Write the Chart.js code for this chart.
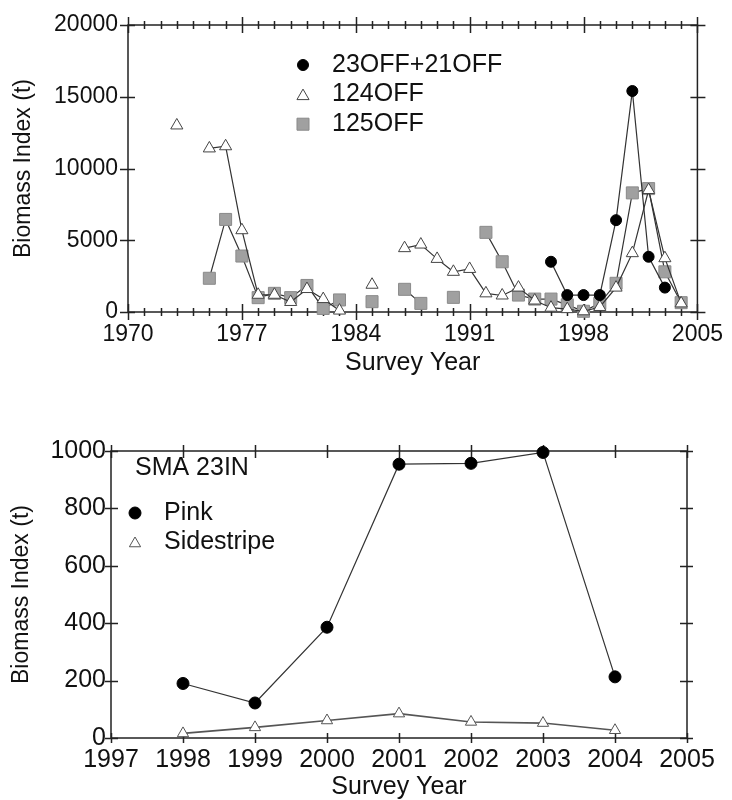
<!DOCTYPE html>
<html>
<head>
<meta charset="utf-8">
<script src="https://cdn.jsdelivr.net/npm/chart.js@4.4.0/dist/chart.umd.min.js"></script>
<style>
html,body{margin:0;padding:0;background:#fff;}
#wrap{position:relative;width:732px;height:800px;overflow:hidden;}
.box{position:absolute;left:0;width:732px;}
</style>
</head>
<body>
<div id="wrap">
  <div class="box" style="top:0;height:390px"><canvas id="c1" width="732" height="390"></canvas></div>
  <div class="box" style="top:390px;height:410px"><canvas id="c2" width="732" height="410"></canvas></div>
</div>
<script>
// ---------- DATA: top panel ----------
const topYears = [1973,1974,1975,1976,1977,1978,1979,1980,1981,1982,1983,1984,1985,1986,1987,1988,
                  1989,1990,1991,1992,1993,1994,1995,1996,1997,1998,1999,2000,2001,2002,2003,2004];
const off23plus21 = [null,null,null,null,null,null,null,null,null,null,null,null,null,null,null,null,
                     null,null,null,null,null,null,null,3500,1180,1180,1180,6400,15400,3850,1700,null];
const off124 = [13000,null,11400,11550,5700,1200,1200,700,1600,900,100,null,1900,null,4450,4700,
                3700,2800,3000,1300,1150,1700,800,300,200,50,350,1700,4100,8500,3750,600];
const off125 = [null,null,2350,6450,3900,1000,1300,1000,1850,250,840,null,720,null,1580,600,
                null,1020,null,5550,3500,1180,900,900,500,50,600,2000,8300,8600,2800,650];
const topSeriesNames = ['23OFF+21OFF','124OFF','125OFF'];
const topXTicks = [1970,1977,1984,1991,1998,2005];
const topYTicks = [0,5000,10000,15000,20000];

// ---------- DATA: bottom panel ----------
const botYears = [1998,1999,2000,2001,2002,2003,2004];
const pink = [190,122,386,954,957,995,213];
const sidestripe = [16,37,61,85,56,52,27];
const botSeriesNames = ['Pink','Sidestripe'];
const botXTicks = [1997,1998,1999,2000,2001,2002,2003,2004,2005];
const botYTicks = [0,200,400,600,800,1000];
const botPanelLabel = 'SMA 23IN';

const FONT = "'Liberation Sans', Arial, sans-serif";
const INK = '#111';

const pts = (xs, ys) => xs.map((x, i) => ({x: x, y: ys[i]}));

// frame + tick marks drawn through the chart's own scales
const axisFrame = {
  id: 'axisFrame',
  beforeDatasetsDraw(chart, args, o) {
    const {ctx, chartArea: a, scales: {x, y}} = chart;
    ctx.save();
    ctx.strokeStyle = o.color;
    ctx.lineWidth = o.lineWidth;
    ctx.strokeRect(a.left, a.top, a.right - a.left, a.bottom - a.top);
    ctx.beginPath();
    for (let v = x.min; v <= x.max + 1e-9; v += o.xMinorStep) {
      const px = Math.round(x.getPixelForValue(v)) + 0.5;
      const major = x.ticks.some(t => Math.abs(t.value - v) < 1e-6);
      const b = major ? o.xMajorBottom : o.xMinorBottom;
      const t = major ? o.xMajorTop : o.xMinorTop;
      ctx.moveTo(px, a.bottom + b[0]); ctx.lineTo(px, a.bottom - b[1]);
      ctx.moveTo(px, a.top - t[0]); ctx.lineTo(px, a.top + t[1]);
    }
    for (const tk of y.ticks) {
      const py = Math.round(y.getPixelForValue(tk.value)) + 0.5;
      ctx.moveTo(a.left - o.yLeft[0], py); ctx.lineTo(a.left + o.yLeft[1], py);
      ctx.moveTo(a.right - o.yRight[1], py); ctx.lineTo(a.right + o.yRight[0], py);
    }
    ctx.stroke();
    ctx.restore();
  }
};

// legend inside the plot, using the datasets' own marker styles
const inlineLegend = {
  id: 'inlineLegend',
  afterDraw(chart, args, o) {
    const ctx = chart.ctx;
    ctx.save();
    ctx.font = o.font;
    ctx.fillStyle = INK;
    ctx.textBaseline = 'middle';
    ctx.textAlign = 'left';
    if (o.title) ctx.fillText(o.title, o.titleX, o.titleY);
    chart.data.datasets.forEach((ds, i) => {
      const yy = o.y + i * o.gap;
      ctx.save();
      ctx.fillStyle = ds.pointBackgroundColor;
      ctx.strokeStyle = ds.pointBorderColor;
      ctx.lineWidth = ds.pointBorderWidth;
      Chart.helpers.drawPoint(ctx, {pointStyle: ds.pointStyle, radius: ds.pointRadius,
        borderWidth: ds.pointBorderWidth, rotation: 0}, o.markerX, yy + (ds.pointStyle === 'triangle' ? 1.5 : 0));
      ctx.restore();
      ctx.fillStyle = INK;
      ctx.fillText(ds.label, o.textX, yy);
    });
    ctx.restore();
  }
};

function lineSet(label, data, style) {
  return Object.assign({
    label: label, data: data, showLine: true, spanGaps: false, clip: false,
    borderColor: '#333', borderWidth: 1.2, tension: 0,
  }, style);
}

const circleStyle = {pointStyle: 'circle', pointRadius: 5.5, pointBackgroundColor: '#000',
  pointBorderColor: '#000', pointBorderWidth: 1};
const triStyle = {pointStyle: 'triangle', pointRadius: 7, pointBackgroundColor: '#fff',
  pointBorderColor: '#444', pointBorderWidth: 1};
const squareStyle = {pointStyle: 'rect', pointRadius: 8.5, pointBackgroundColor: '#a0a0a0',
  pointBorderColor: '#8a8a8a', pointBorderWidth: 1};

function scaleOpts(cfg) {
  return {
    x: {
      type: 'linear', min: cfg.xMin, max: cfg.xMax,
      afterBuildTicks: s => { s.ticks = cfg.xTicks.map(v => ({value: v})); },
      afterFit: s => { s.height = cfg.xHeight; },
      ticks: {callback: v => String(v), font: {family: FONT, size: cfg.tickSize}, color: INK,
        padding: cfg.xTickPad, maxRotation: 0, autoSkip: false},
      grid: {display: false, drawTicks: false},
      border: {display: false},
      title: {display: true, text: 'Survey Year', color: INK,
        font: {family: FONT, size: 25}, padding: {top: 0, bottom: cfg.xTitlePad}}
    },
    y: {
      type: 'linear', min: cfg.yMin, max: cfg.yMax,
      afterBuildTicks: s => { s.ticks = cfg.yTicks.map(v => ({value: v})); },
      afterFit: s => { s.width = cfg.yWidth; },
      ticks: {callback: v => String(v), font: {family: FONT, size: cfg.tickSize}, color: INK,
        padding: cfg.yTickPad, autoSkip: false},
      grid: {display: false, drawTicks: false},
      border: {display: false},
      title: {display: true, text: 'Biomass Index (t)', color: INK,
        font: {family: FONT, size: 23}, padding: {top: cfg.yTitlePad, bottom: 0}}
    }
  };
}

// ---------- top chart ----------
new Chart(document.getElementById('c1'), {
  type: 'scatter',
  data: {
    datasets: [
      lineSet(topSeriesNames[0], pts(topYears, off23plus21), circleStyle),
      lineSet(topSeriesNames[1], pts(topYears, off124), triStyle),
      lineSet(topSeriesNames[2], pts(topYears, off125), squareStyle)
    ]
  },
  options: {
    responsive: false, animation: false, events: [],
    layout: {padding: {top: 25, right: 30, left: 0, bottom: 0}},
    plugins: {
      legend: {display: false}, tooltip: {enabled: false},
      axisFrame: {color: '#222', lineWidth: 1.5, xMinorStep: 1,
        xMajorBottom: [8, 8], xMinorBottom: [4, 4], xMajorTop: [8, 8], xMinorTop: [4, 4],
        yLeft: [8, 7], yRight: [8, 7]},
      inlineLegend: {font: "25px " + FONT, markerX: 303, textX: 332, y: 65, gap: 29.6}
    },
    scales: scaleOpts({xMin: 1970, xMax: 2005, xTicks: topXTicks, yMin: 0, yMax: 20000, yTicks: topYTicks,
      xHeight: 78, yWidth: 128, tickSize: 23, xTickPad: 9, yTickPad: 10, xTitlePad: 12, yTitlePad: 10})
  },
  plugins: [axisFrame, inlineLegend]
});

// ---------- bottom chart ----------
new Chart(document.getElementById('c2'), {
  type: 'scatter',
  data: {
    datasets: [
      lineSet(botSeriesNames[0], pts(botYears, pink), Object.assign({}, circleStyle, {pointRadius: 6})),
      lineSet(botSeriesNames[1], pts(botYears, sidestripe), Object.assign({}, triStyle,
        {pointRadius: 6.5, borderColor: '#555', borderWidth: 1.6, pointBorderColor: '#555'}))
    ]
  },
  options: {
    responsive: false, animation: false, events: [],
    layout: {padding: {top: 61, right: 45, left: 0, bottom: 0}},
    plugins: {
      legend: {display: false}, tooltip: {enabled: false},
      axisFrame: {color: '#222', lineWidth: 1.5, xMinorStep: 1,
        xMajorBottom: [5, 5], xMinorBottom: [5, 5], xMajorTop: [6, 7], xMinorTop: [6, 7],
        yLeft: [6, 7], yRight: [6, 7]},
      inlineLegend: {font: "25px " + FONT, title: botPanelLabel, titleX: 135, titleY: 78,
        markerX: 135, textX: 164, y: 123, gap: 29}
    },
    scales: scaleOpts({xMin: 1997, xMax: 2005, xTicks: botXTicks, yMin: 0, yMax: 1000, yTicks: botYTicks,
      xHeight: 62, yWidth: 111, tickSize: 25, xTickPad: 7, yTickPad: 5, xTitlePad: -2, yTitlePad: 8})
  },
  plugins: [axisFrame, inlineLegend]
});
</script>
</body>
</html>
